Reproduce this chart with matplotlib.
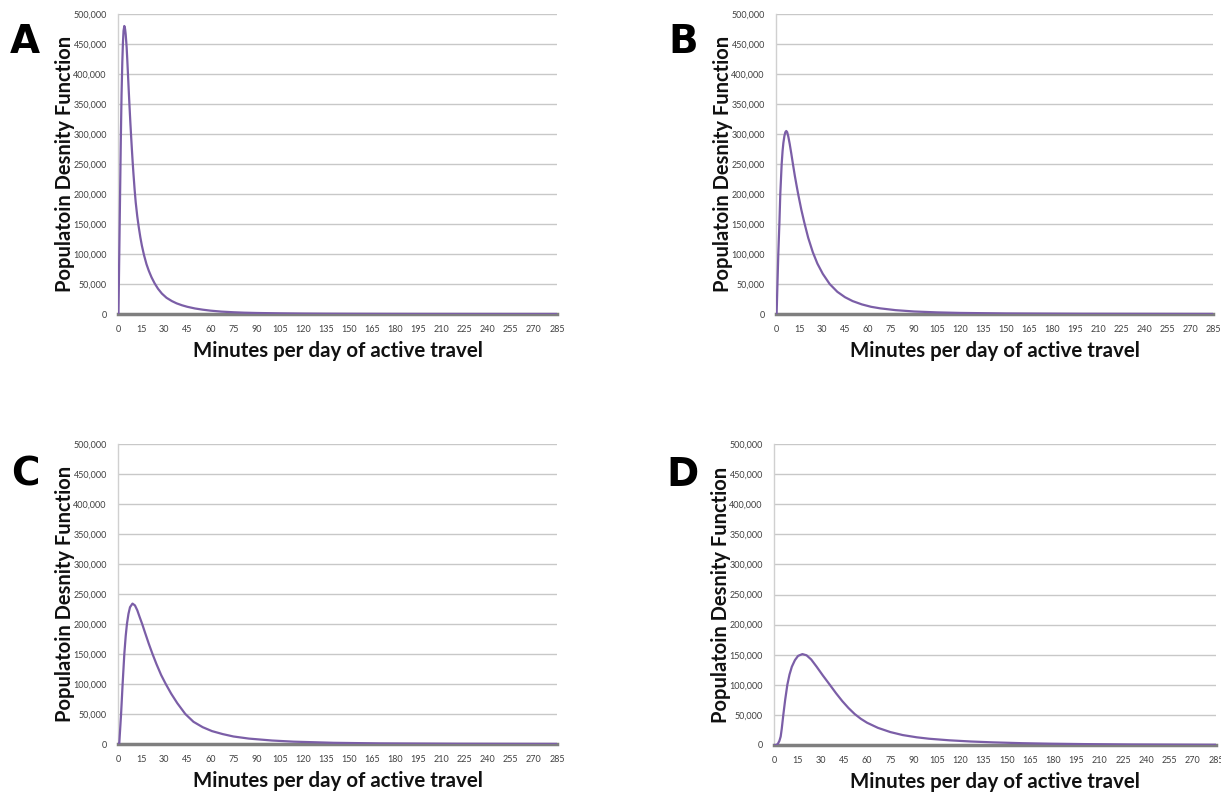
import matplotlib
matplotlib.use("Agg")
import matplotlib.pyplot as plt
from matplotlib.ticker import FuncFormatter

# ---- data (minutes, density) ----
panel_labels = ["A", "B", "C", "D"]

a_x = [0, 0.3, 0.8, 1.3, 1.8, 2.3, 2.8, 3.2, 3.6, 4.1, 4.6, 5.0, 5.6, 6.0, 6.5, 7.0, 7.5,
       8.0, 8.5, 9.0, 9.5, 10.0, 10.8, 11.5, 12.5, 13.4, 14.5, 15.5, 16.9, 18.5, 20, 21.8,
       23.8, 26, 28.5, 31.5, 35, 38, 41.6, 45, 50, 55, 60, 67, 75, 82, 90, 105, 120, 135,
       150, 175, 200, 240, 285]
a_y = [0, 0, 95000, 190000, 285000, 365000, 420000, 452000, 472000, 480000, 475000,
       466000, 445000, 425000, 398000, 371000, 345000, 320000, 297000, 275000, 254000,
       235000, 207000, 186000, 163000, 146000, 128000, 114000, 98000, 83000, 72000, 61000,
       51000, 42000, 34000, 27000, 21500, 17800, 14500, 12000, 9200, 7200, 5600, 4000,
       2900, 2200, 1700, 1100, 700, 480, 350, 200, 120, 60, 30]

b_x = [0, 0.4, 1.0, 1.5, 2.2, 2.8, 3.7, 4.3, 4.8, 5.5, 6.1, 6.7, 7.3, 8.0, 8.9, 10, 11.1,
       12.3, 13.5, 14.6, 16.5, 18.5, 21, 24, 27, 30.5, 35, 40, 45, 50, 56, 62, 68, 78, 90,
       105, 120, 150, 200, 285]
b_y = [0, 0, 55000, 100000, 150000, 200000, 250000, 272000, 285000, 297000, 303000,
       305000, 303000, 296000, 284000, 267000, 249000, 230000, 213000, 198000, 174000,
       152000, 127000, 103000, 84000, 67000, 50000, 37000, 28000, 21500, 16000, 12000,
       9400, 6400, 4200, 2700, 1800, 900, 350, 100]

c_x = [0, 0.8, 1.4, 2.0, 3.0, 4.1, 5.0, 5.8, 6.8, 7.8, 9.4, 11, 12.5, 14, 15.7, 17.5, 20,
       22.4, 25, 28, 31, 34.5, 38.5, 43.7, 49, 55, 61, 68, 75, 85, 100, 114, 140, 170, 220,
       285]
c_y = [0, 0, 25000, 50000, 100000, 150000, 180000, 200000, 217000, 228000, 234000, 231000,
       223000, 212000, 200000, 186000, 167000, 150000, 133000, 115000, 100000, 84000,
       68000, 50000, 37000, 28000, 21500, 16500, 12500, 9000, 5800, 3900, 2000, 1000, 400,
       150]

d_x = [0, 1.5, 2.5, 3.5, 4.3, 5.0, 6.0, 7.2, 8.6, 10, 11.5, 13.5, 15.5, 18.3, 21, 24,
       27.5, 31.5, 36, 40, 44, 48, 52, 56, 60, 67, 75, 83, 92, 100, 113, 127, 141, 160, 178,
       200, 230, 285]
d_y = [0, 0, 2000, 7000, 14000, 27000, 50000, 75000, 100000, 117000, 130000, 141000,
       148000, 151000, 149000, 142000, 130000, 115500, 100000, 86000, 73000, 61500, 51500,
       43500, 37000, 28500, 21500, 16500, 12800, 10400, 7800, 5800, 4400, 3000, 2200, 1500,
       900, 400]

series_x = [a_x, b_x, c_x, d_x]
series_y = [a_y, b_y, c_y, d_y]

x_ticks = list(range(0, 286, 15))
y_ticks = list(range(0, 500001, 50000))
x_title = "Minutes per day of active travel"
y_title = "Populatoin Desnity Function"

# ---- layout ----
W, H = 1221, 793
fig = plt.figure(figsize=(W / 100, H / 100), dpi=100)

# (left, right, top, bottom) in pixels
boxes = [(118, 557, 14, 314), (776, 1213, 14, 314),
         (118, 557, 444, 744), (774, 1216, 444, 745)]
letter_pos = [(25, 42), (683, 42), (25, 475), (683, 475)]

line_color = "#7b5ea7"
grid_color = "#c8c8c8"

for i in range(4):
    l, r, t, b = boxes[i]
    ax = fig.add_axes([l / W, 1 - b / H, (r - l) / W, (b - t) / H])
    ax.set_xlim(0, 285)
    ax.set_ylim(0, 500000)
    ax.set_yticks(y_ticks)
    ax.set_xticks(x_ticks)
    ax.yaxis.set_major_formatter(FuncFormatter(lambda v, p: f"{int(v):,}"))
    ax.grid(axis="y", color=grid_color, lw=1.0, zorder=0)
    ax.set_axisbelow(True)
    for s in ["top", "right"]:
        ax.spines[s].set_visible(False)
    ax.spines["left"].set_color("#d0d0d0")
    ax.spines["left"].set_linewidth(1.0)
    ax.spines["bottom"].set_color("#7f7f7f")
    ax.spines["bottom"].set_linewidth(2.5)
    ax.tick_params(length=0, labelsize=6.5, labelcolor="#404040", pad=8)
    for lab in ax.get_xticklabels() + ax.get_yticklabels():
        lab.set_fontfamily("Lato")
    ax.plot(series_x[i], series_y[i], color=line_color, lw=1.6, zorder=3,
            solid_joinstyle="round", solid_capstyle="round", clip_on=True)
    ax.set_xlabel(x_title, fontsize=14.8, fontweight="bold", family="Lato",
                  labelpad=5, color="#111111")
    ax.set_ylabel(y_title, fontsize=14.5, fontweight="bold", family="Lato",
                  labelpad=-1, color="#111111")
    lx, ly = letter_pos[i]
    fig.text(lx / W, 1 - ly / H, panel_labels[i], fontsize=28, fontweight="bold",
             family="DejaVu Sans", ha="center", va="center", color="black")

fig.savefig("out.png", dpi=100, facecolor="white")
